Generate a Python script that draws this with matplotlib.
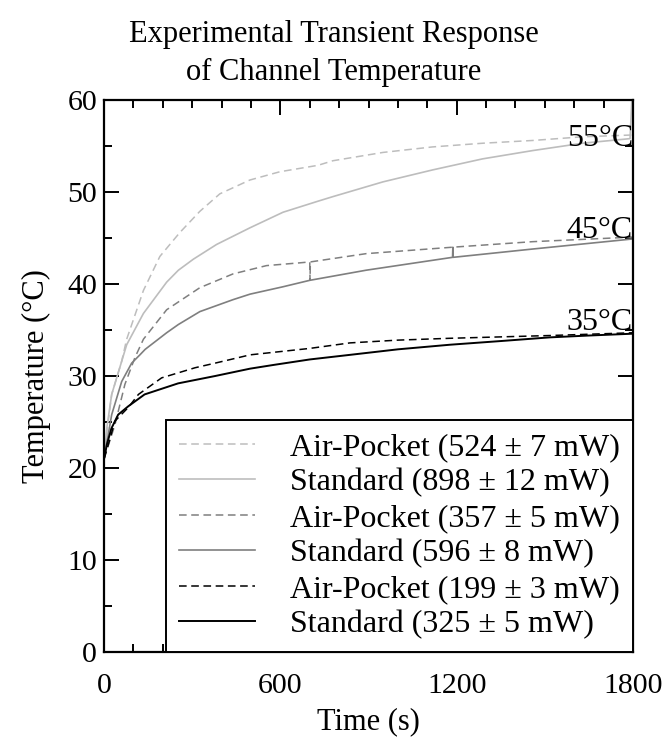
import numpy as np
import matplotlib
matplotlib.use("Agg")
import matplotlib.pyplot as plt
from matplotlib.ticker import MultipleLocator

plt.rcParams['font.family'] = ['Liberation Serif', 'DejaVu Serif']

# ---- data (time in s, temperature in degC) ----
t_std_325 = [0, 10, 25, 48, 82, 138, 252, 378, 497, 576, 700, 837, 1000, 1177, 1350, 1517, 1650, 1800]
T_std_325 = [21.0, 22.6, 24.3, 25.8, 26.7, 28.0, 29.2, 30.0, 30.8, 31.2, 31.8, 32.3, 32.9, 33.4, 33.8, 34.2, 34.4, 34.6]

t_air_199 = [0, 15, 37, 83, 117, 196, 310, 378, 497, 700, 837, 1000, 1177, 1517, 1800]
T_air_199 = [21.0, 22.6, 25.1, 26.6, 28.0, 29.8, 30.9, 31.4, 32.3, 33.0, 33.6, 33.9, 34.1, 34.4, 34.7]

t_std_596 = [0, 26, 60, 94, 122, 140, 213, 253, 326, 439, 497, 609, 700, 892, 1186, 1187, 1188, 1458, 1800]
T_std_596 = [21.0, 25.8, 29.4, 31.4, 32.3, 32.9, 34.7, 35.6, 37.0, 38.3, 38.9, 39.7, 40.4, 41.5, 42.9, 44.0, 42.9, 43.8, 44.9]

t_air_357 = [0, 37, 71, 105, 134, 213, 326, 439, 553, 666, 700, 701, 702, 892, 1186, 1458, 1800]
T_air_357 = [21.0, 24.7, 29.1, 32.0, 34.0, 37.2, 39.6, 41.1, 42.0, 42.3, 42.4, 40.4, 42.4, 43.3, 44.0, 44.6, 45.1]

t_std_898 = [0, 10, 26, 60, 77, 134, 213, 253, 304, 383, 496, 609, 728, 779, 949, 1118, 1288, 1458, 1628, 1790, 1796]
T_std_898 = [21.0, 24.5, 28.0, 31.6, 33.4, 36.8, 40.2, 41.5, 42.7, 44.3, 46.1, 47.8, 49.0, 49.5, 51.1, 52.4, 53.6, 54.5, 55.3, 55.8, 60.0]

t_air_524 = [0, 10, 26, 60, 77, 134, 190, 258, 326, 394, 496, 598, 728, 779, 949, 1118, 1288, 1458, 1628, 1800]
T_air_524 = [21.0, 24.0, 28.0, 31.6, 34.0, 39.3, 43.0, 45.6, 47.9, 49.8, 51.3, 52.2, 52.9, 53.4, 54.3, 54.9, 55.3, 55.6, 56.0, 56.2]

labels = ["Air-Pocket (524 \u00b1 7 mW)", "Standard (898 \u00b1 12 mW)",
          "Air-Pocket (357 \u00b1 5 mW)", "Standard (596 \u00b1 8 mW)",
          "Air-Pocket (199 \u00b1 3 mW)", "Standard (325 \u00b1 5 mW)"]
set_temps = [55, 45, 35]

fig = plt.figure(figsize=(6.67, 7.38), dpi=100)
ax = fig.add_axes([0.156, 0.1165, 0.793, 0.748])

light, mid = '#bdbdbd', '#7f7f7f'
dash = (5, 3)
ax.plot(t_air_524, T_air_524, color=light, lw=1.1, dashes=dash, label=labels[0])
ax.plot(t_std_898, T_std_898, color=light, lw=1.2, label=labels[1])
ax.plot(t_air_357, T_air_357, color=mid, lw=1.1, dashes=dash, label=labels[2])
ax.plot(t_std_596, T_std_596, color=mid, lw=1.2, label=labels[3])
ax.plot(t_air_199, T_air_199, color='black', lw=1.1, dashes=dash, label=labels[4])
ax.plot(t_std_325, T_std_325, color='black', lw=1.4, label=labels[5])

# set-point annotations
for T in set_temps:
    ax.text(1800, T, f"{T}\u00b0C", ha='right', va='baseline', fontsize=23)

ax.set_xlim(0, 1800)
ax.set_ylim(0, 60)
ax.xaxis.set_major_locator(MultipleLocator(600))
ax.xaxis.set_minor_locator(MultipleLocator(100))
ax.yaxis.set_major_locator(MultipleLocator(10))
ax.yaxis.set_minor_locator(MultipleLocator(5))
ax.tick_params(which='both', direction='in', top=True, right=True, labelsize=21.5, width=1.4)
ax.tick_params(which='major', length=11)
ax.tick_params(which='minor', length=5.5)
ax.tick_params(axis='x', pad=15)
ax.tick_params(axis='y', pad=5)
for s in ax.spines.values():
    s.set_linewidth(1.6)

ax.set_xlabel("Time (s)", fontsize=22, labelpad=6)
ax.set_ylabel("Temperature (\u00b0C)", fontsize=22, labelpad=12)

# two-line title, centred on the figure
fig.text(0.5, 1 - 42 / 738, "Experimental Transient Response", ha='center', va='baseline', fontsize=22)
fig.text(0.5, 1 - 80 / 738, "of Channel Temperature", ha='center', va='baseline', fontsize=22)

leg = ax.legend(loc='lower right', fontsize=23, frameon=True, fancybox=False,
                edgecolor='black', framealpha=1, borderaxespad=0,
                handlelength=2.4, handletextpad=1.1, labelspacing=0.19,
                borderpad=0.4)
leg.get_frame().set_linewidth(1.4)

fig.savefig("out.png", dpi=100)
